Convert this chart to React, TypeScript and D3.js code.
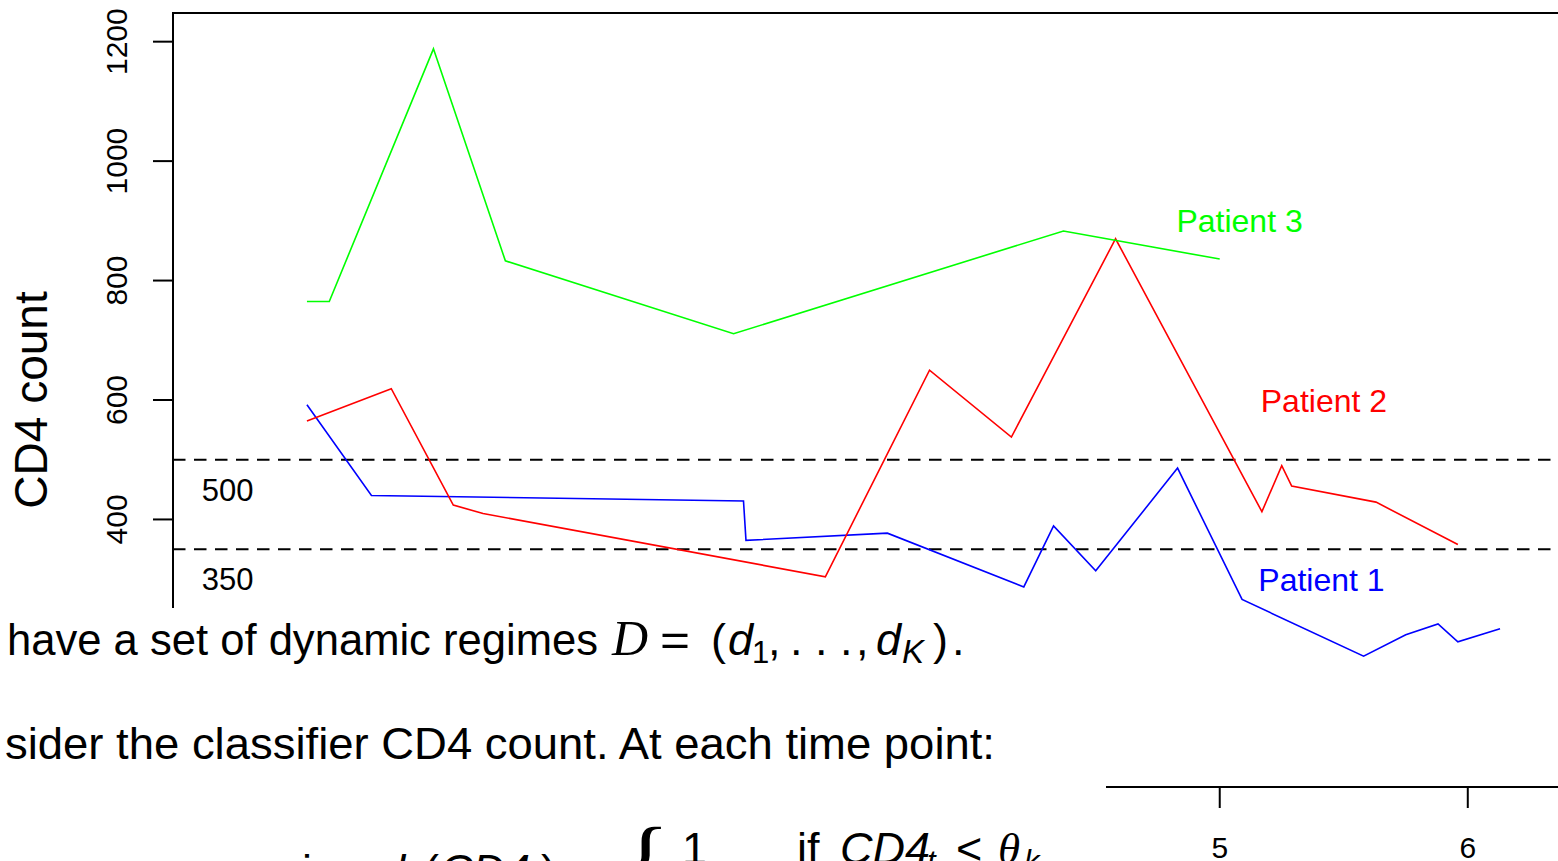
import React, { useRef, useEffect } from 'react';
import * as d3 from 'd3';

const W = 1558;
const H = 861;

// time (x) and CD4 count (y) for each patient
const time1 = [1.32, 1.58, 3.08, 3.09, 3.66, 4.21, 4.33, 4.5, 4.83, 5.09, 5.58, 5.75, 5.88, 5.96, 6.13];
const cd4Patient1 = [592, 440, 431, 365, 377, 287, 389, 314, 486, 266, 171, 207, 225, 195, 217];
const time2 = [1.32, 1.66, 1.91, 2.03, 3.41, 3.83, 4.16, 4.58, 5.17, 5.25, 5.29, 5.63, 5.96];
const cd4Patient2 = [565, 619, 424, 410, 304, 650, 538, 870, 413, 490, 456, 429, 358];
const time3 = [1.32, 1.41, 1.83, 2.12, 3.04, 4.37, 5.0];
const cd4Patient3 = [765, 765, 1188, 833, 711, 883, 836];

const patientNames = ['Patient 1', 'Patient 2', 'Patient 3'];
const patientColors = ['#0000ff', '#ff0000', '#00ff00'];
const nameAt = [[5.41, 300], [5.42, 600], [5.08, 900]];

const thresholds = [500, 350];
const thresholdLabelAt = [[1, 450], [1, 300]];

const yTicks = [0, 200, 400, 600, 800, 1000, 1200];
const xTicks = [1, 2, 3, 4, 5, 6];

const font = '"Liberation Sans", Arial, Helvetica, sans-serif';
const serif = '"Liberation Serif", "Times New Roman", serif';

// the slide's text block hides the lower left of the figure
const cover = { x: 0, y: 608, w: 1106, h: H - 608 };
const hidden = (px: number, py: number) =>
  px >= cover.x && px <= cover.x + cover.w && py >= cover.y;

export default function App() {
  const gRef = useRef<SVGGElement>(null);

  useEffect(() => {
    const g = d3.select(gRef.current);
    g.selectAll('*').remove();

    const x = d3.scaleLinear().domain([0.78, 6.4]).range([173, 1567]);
    const y = d3.scaleLinear().domain([-48, 1248]).range([787, 13]);

    // threshold lines
    thresholds.forEach((v, i) => {
      g.append('line')
        .attr('x1', x(0.78)).attr('x2', W)
        .attr('y1', y(v)).attr('y2', y(v))
        .attr('stroke', '#000').attr('stroke-width', 2)
        .attr('stroke-dasharray', '12.5,8.5');
      g.append('text')
        .attr('x', x(thresholdLabelAt[i][0]))
        .attr('y', y(thresholdLabelAt[i][1]))
        .attr('dy', '0.36em')
        .attr('text-anchor', 'middle')
        .attr('font-family', font).attr('font-size', 31)
        .text(String(v));
    });

    const series = [
      { t: time1, v: cd4Patient1 },
      { t: time2, v: cd4Patient2 },
      { t: time3, v: cd4Patient3 },
    ];
    const line = d3.line<[number, number]>().x(d => x(d[0])).y(d => y(d[1]));

    series.forEach((s, i) => {
      const pts = s.t.map((t, j) => [t, s.v[j]] as [number, number]);
      g.append('path')
        .attr('d', line(pts))
        .attr('fill', 'none')
        .attr('stroke', patientColors[i])
        .attr('stroke-width', 1.6);
      g.append('text')
        .attr('x', x(nameAt[i][0]))
        .attr('y', y(nameAt[i][1]))
        .attr('dy', '0.36em')
        .attr('text-anchor', 'middle')
        .attr('font-family', font).attr('font-size', 32)
        .attr('fill', patientColors[i])
        .text(patientNames[i]);
    });

    // frame
    g.append('rect')
      .attr('x', x(0.78)).attr('y', y(1248))
      .attr('width', W).attr('height', y(-48) - y(1248))
      .attr('fill', 'none').attr('stroke', '#000').attr('stroke-width', 2);

    // y axis
    const yAxis = g.append('g');
    yTicks.forEach(v => {
      yAxis.append('line')
        .attr('x1', 153).attr('x2', x(0.78))
        .attr('y1', y(v)).attr('y2', y(v))
        .attr('stroke', '#000').attr('stroke-width', 2);
      if (!hidden(127, y(v) - 30)) {
        yAxis.append('text')
          .attr('transform', `translate(127,${y(v)}) rotate(-90)`)
          .attr('text-anchor', 'middle')
          .attr('font-family', font).attr('font-size', 30)
          .text(String(v));
      }
    });
    g.append('text')
      .attr('transform', `translate(47,${y(600)}) rotate(-90)`)
      .attr('text-anchor', 'middle')
      .attr('font-family', font).attr('font-size', 46)
      .text('CD4 count');

    // x axis
    const xAxis = g.append('g');
    xTicks.forEach(t => {
      xAxis.append('line')
        .attr('x1', x(t)).attr('x2', x(t))
        .attr('y1', y(-48)).attr('y2', y(-48) + 21)
        .attr('stroke', '#000').attr('stroke-width', 2);
      if (!hidden(x(t) + 20, 858)) {
        xAxis.append('text')
          .attr('x', x(t)).attr('y', 858)
          .attr('text-anchor', 'middle')
          .attr('font-family', font).attr('font-size', 30)
          .text(String(t));
      }
    });
  }, []);

  const fs = 45;
  return (
    <svg width={W} height={H} style={{ position: 'absolute', left: 0, top: 0, display: 'block' }}>
      <rect width={W} height={H} fill="#fff" />
      <g ref={gRef} />
      {/* slide text lying over the lower part of the figure */}
      <rect x={cover.x} y={cover.y} width={cover.w} height={cover.h} fill="#fff" />
      <g fontFamily={font} fontSize={fs} fill="#000">
        <text x={7} y={655} textLength={591} lengthAdjust="spacingAndGlyphs">have a set of dynamic regimes</text>
        <text x={612} y={655} fontFamily={serif} fontStyle="italic" fontSize={50}>D</text>
        <text x={660} y={655} textLength={30} lengthAdjust="spacingAndGlyphs">=</text>
        <text x={711} y={655}>(</text>
        <text x={728} y={655} fontStyle="italic">d</text>
        <text x={752} y={663} fontSize={31}>1</text>
        <text x={768} y={655}>,</text>
        <text x={790} y={655}>. . .</text>
        <text x={856} y={655}>,</text>
        <text x={876} y={655} fontStyle="italic">d</text>
        <text x={902} y={663} fontSize={33} fontStyle="italic">K</text>
        <text x={933} y={655}>)</text>
        <text x={952} y={655}>.</text>

        <text x={5} y={759} textLength={990} lengthAdjust="spacingAndGlyphs">sider the classifier CD4 count. At each time point:</text>

        <text x={302} y={886}>i</text>
        <text x={380} y={886} fontStyle="italic">d</text>
        <text x={404} y={894} fontSize={31} fontStyle="italic">k</text>
        <text x={424} y={886}>(</text>
        <text x={440} y={886} fontStyle="italic">CD4</text>
        <text x={524} y={894} fontSize={31} fontStyle="italic">t</text>
        <text x={541} y={886}>)</text>
        <text x={575} y={886}>=</text>
        <text x={622} y={896} fontSize={100} fontFamily={serif}>{'{'}</text>
        <text x={682} y={864}>1</text>
        <text x={797} y={864}>if</text>
        <text x={840} y={864} fontStyle="italic">CD4</text>
        <text x={927} y={872} fontSize={31} fontStyle="italic">t</text>
        <text x={956} y={864}>&lt;</text>
        <text x={998} y={864} fontStyle="italic" fontFamily={serif}>θ</text>
        <text x={1024} y={872} fontSize={31} fontStyle="italic">k</text>
      </g>
    </svg>
  );
}
